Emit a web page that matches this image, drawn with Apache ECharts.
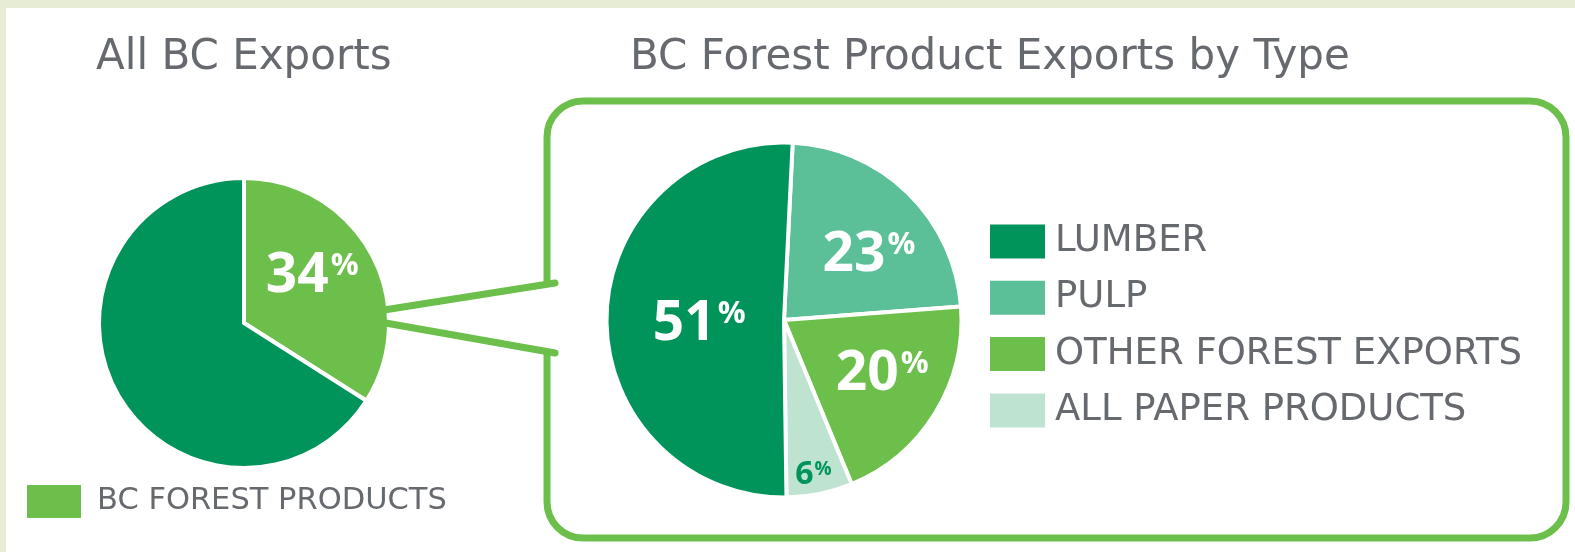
<!DOCTYPE html>
<html>
<head>
<meta charset="utf-8">
<script src="https://cdn.jsdelivr.net/npm/echarts@6/dist/echarts.min.js"></script>
<style>
html,body{margin:0;padding:0;background:#e7ecd5;}
#chart{width:1575px;height:552px;}
</style>
</head>
<body>
<div id="chart"></div>
<script>
// ---- data ----
const titles = ['All BC Exports', 'BC Forest Product Exports by Type'];
const leftNames = ['BC FOREST PRODUCTS', 'OTHER BC EXPORTS'];
const leftValues = [34, 66];
const rightNames = ['PULP', 'OTHER FOREST EXPORTS', 'ALL PAPER PRODUCTS', 'LUMBER'];
const rightValues = [23, 20, 6, 51];
const rightLegendOrder = ['LUMBER', 'PULP', 'OTHER FOREST EXPORTS', 'ALL PAPER PRODUCTS'];

// ---- styles ----
const C = {
  dark: '#00935a', teal: '#5bbf98', green: '#6cbf4a', pale: '#bfe3d1',
  text: '#66696e', line: '#6cbf4a'
};
const leftColors = [C.green, C.dark];
const rightColors = [C.teal, C.green, C.pale, C.dark];
const LFONT = '"Open Sans", "DejaVu Sans", sans-serif';
const TFONT = '"DejaVu Sans", sans-serif';

const bigRich = {
  v: {fontSize: 55, fontWeight: 'bold', color: '#fff', fontFamily: LFONT, lineHeight: 58},
  p: {fontSize: 31, fontWeight: 'bold', color: '#fff', fontFamily: LFONT, lineHeight: 58, padding: [0, 0, 20, 2]}
};
const smallRich = {
  v: {fontSize: 32, fontWeight: 'bold', color: C.dark, fontFamily: LFONT, lineHeight: 36},
  p: {fontSize: 19, fontWeight: 'bold', color: C.dark, fontFamily: LFONT, lineHeight: 36, padding: [0, 0, 11, 1]}
};

const leftData = leftNames.map((n, i) => ({
  name: n, value: leftValues[i],
  itemStyle: {color: leftColors[i]},
  label: {show: i === 0}
}));
const rightData = rightNames.map((n, i) => ({
  name: n, value: rightValues[i],
  itemStyle: {color: rightColors[i]},
  label: n === 'ALL PAPER PRODUCTS' ? {rich: smallRich} : {}
}));

const leftOffsets = [[2, -10], [0, 0]];
const rightOffsets = [[21, 1], [20, 6], [11, 65], [7, 6]];

const chart = echarts.init(document.getElementById('chart'), null, {renderer: 'canvas'});
chart.setOption({
  backgroundColor: '#e7ecd5',
  animation: false,
  title: [
    {text: titles[0], left: 96, top: 37, padding: 0,
     textStyle: {fontSize: 42, fontWeight: 'normal', color: C.text, fontFamily: TFONT}},
    {text: titles[1], left: 630, top: 37, padding: 0,
     textStyle: {fontSize: 42, fontWeight: 'normal', color: C.text, fontFamily: TFONT}}
  ],
  legend: [
    {data: [leftNames[0]], orient: 'vertical', left: 27, top: 485, padding: 0,
     icon: 'rect', itemWidth: 54, itemHeight: 33, selectedMode: false,
     itemStyle: {borderWidth: 0},
     textStyle: {fontSize: 30.5, color: C.text, fontFamily: TFONT, padding: [0, 0, 0, 11]}},
    {data: rightLegendOrder, orient: 'vertical', left: 990, top: 223, padding: 0,
     icon: 'rect', itemWidth: 55, itemHeight: 34, itemGap: 19.3, selectedMode: false,
     itemStyle: {borderWidth: 0},
     textStyle: {fontSize: 37, color: C.text, fontFamily: TFONT, padding: [0, 0, 0, 5]}}
  ],
  graphic: [
    {type: 'rect', z: 0, silent: true, shape: {x: 6, y: 8, width: 1569, height: 544},
     style: {fill: '#ffffff'}},
    {type: 'rect', z: 1, silent: true, shape: {x: 547, y: 101, width: 1019, height: 437, r: 36},
     style: {fill: 'none', stroke: C.line, lineWidth: 7}},
    {type: 'rect', z: 1, silent: true, shape: {x: 540, y: 286, width: 16, height: 63},
     style: {fill: '#ffffff'}},
    {type: 'polyline', z: 10, silent: true,
     shape: {points: [[555, 283], [346, 316], [555, 353]]},
     style: {stroke: C.line, lineWidth: 7, fill: 'none', lineCap: 'round', lineJoin: 'round'}}
  ],
  series: [
    {type: 'pie', name: 'All BC Exports', center: [244, 323], radius: 145,
     startAngle: 90, clockwise: true, silent: true, z: 2,
     itemStyle: {borderColor: '#fff', borderWidth: 4},
     label: {position: 'inside', formatter: '{v|{c}}{p|%}', rich: bigRich},
     labelLine: {show: false},
     labelLayout: p => ({dx: leftOffsets[p.dataIndex][0], dy: leftOffsets[p.dataIndex][1]}),
     data: leftData},
    {type: 'pie', name: 'BC Forest Product Exports by Type', center: [784, 320], radius: 177.5,
     startAngle: 87.2, clockwise: true, silent: true, z: 2,
     itemStyle: {borderColor: '#fff', borderWidth: 4},
     label: {position: 'inside', formatter: '{v|{c}}{p|%}', rich: bigRich},
     labelLine: {show: false},
     labelLayout: p => ({dx: rightOffsets[p.dataIndex][0], dy: rightOffsets[p.dataIndex][1]}),
     data: rightData}
  ]
});
</script>
</body>
</html>
